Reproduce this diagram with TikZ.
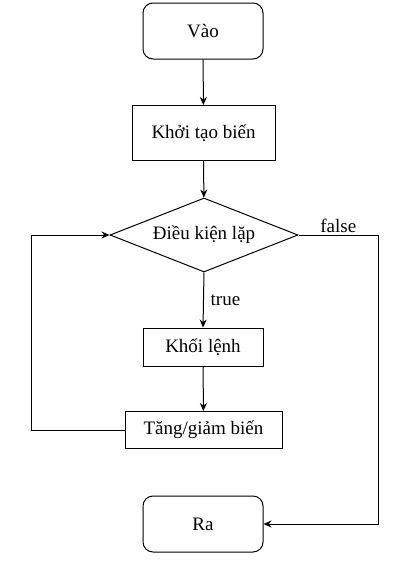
\documentclass[tikz,border=0pt]{standalone}
\usepackage{fontspec}
\setmainfont{Liberation Serif}
\usetikzlibrary{shapes.geometric,arrows.meta}

\begin{document}
\begin{tikzpicture}[x=0.5pt, y=-0.5pt, line width=0.5pt,
    every node/.style={font=\fontsize{9.5}{11}\selectfont},
    terminal/.style={draw, rounded corners=5pt, minimum width=60pt, minimum height=28pt},
    stepbox/.style={draw, minimum height=19pt},
    cond/.style={draw, diamond, aspect=2.5, inner sep=0pt, minimum width=94pt, minimum height=37pt},
    arrow/.style={-{Stealth[length=4pt,width=3.5pt]}}]
    \useasboundingbox (0,0) rectangle (406,562);

    % Start / init
    \node[terminal] (vao) at (203,31) {Vào};
    \node[stepbox, minimum width=71.5pt, minimum height=27.5pt] (khoitao) at (203.5,133) {Khởi tạo biến};

    % Loop condition
    \node[cond] (dieukien) at (204,235) {Điều kiện lặp};

    % Loop body
    \node[stepbox, minimum width=60pt] (khoilenh) at (203,347) {Khối lệnh};
    \node[stepbox, minimum width=78.5pt, minimum height=18.5pt] (tanggiam) at (203.5,430) {Tăng/giảm biến};

    % End
    \node[terminal] (ra) at (203,524) {Ra};

    \coordinate (loopl) at (31,430);
    \coordinate (exitr) at (378,235);

    \draw[arrow] (vao) -- (khoitao);
    \draw[arrow] (khoitao) -- (dieukien);
    \draw[arrow] (dieukien.south) -- node[right, pos=0.5] {true} (khoilenh.north);
    \draw[arrow] (khoilenh) -- (tanggiam);
    \draw[arrow] (tanggiam.west) -- (loopl) |- (dieukien.west);
    \draw[arrow] (dieukien.east) -- node[above, pos=0.5, inner sep=1pt] {false} (exitr) |- (ra.east);
\end{tikzpicture}
\end{document}
